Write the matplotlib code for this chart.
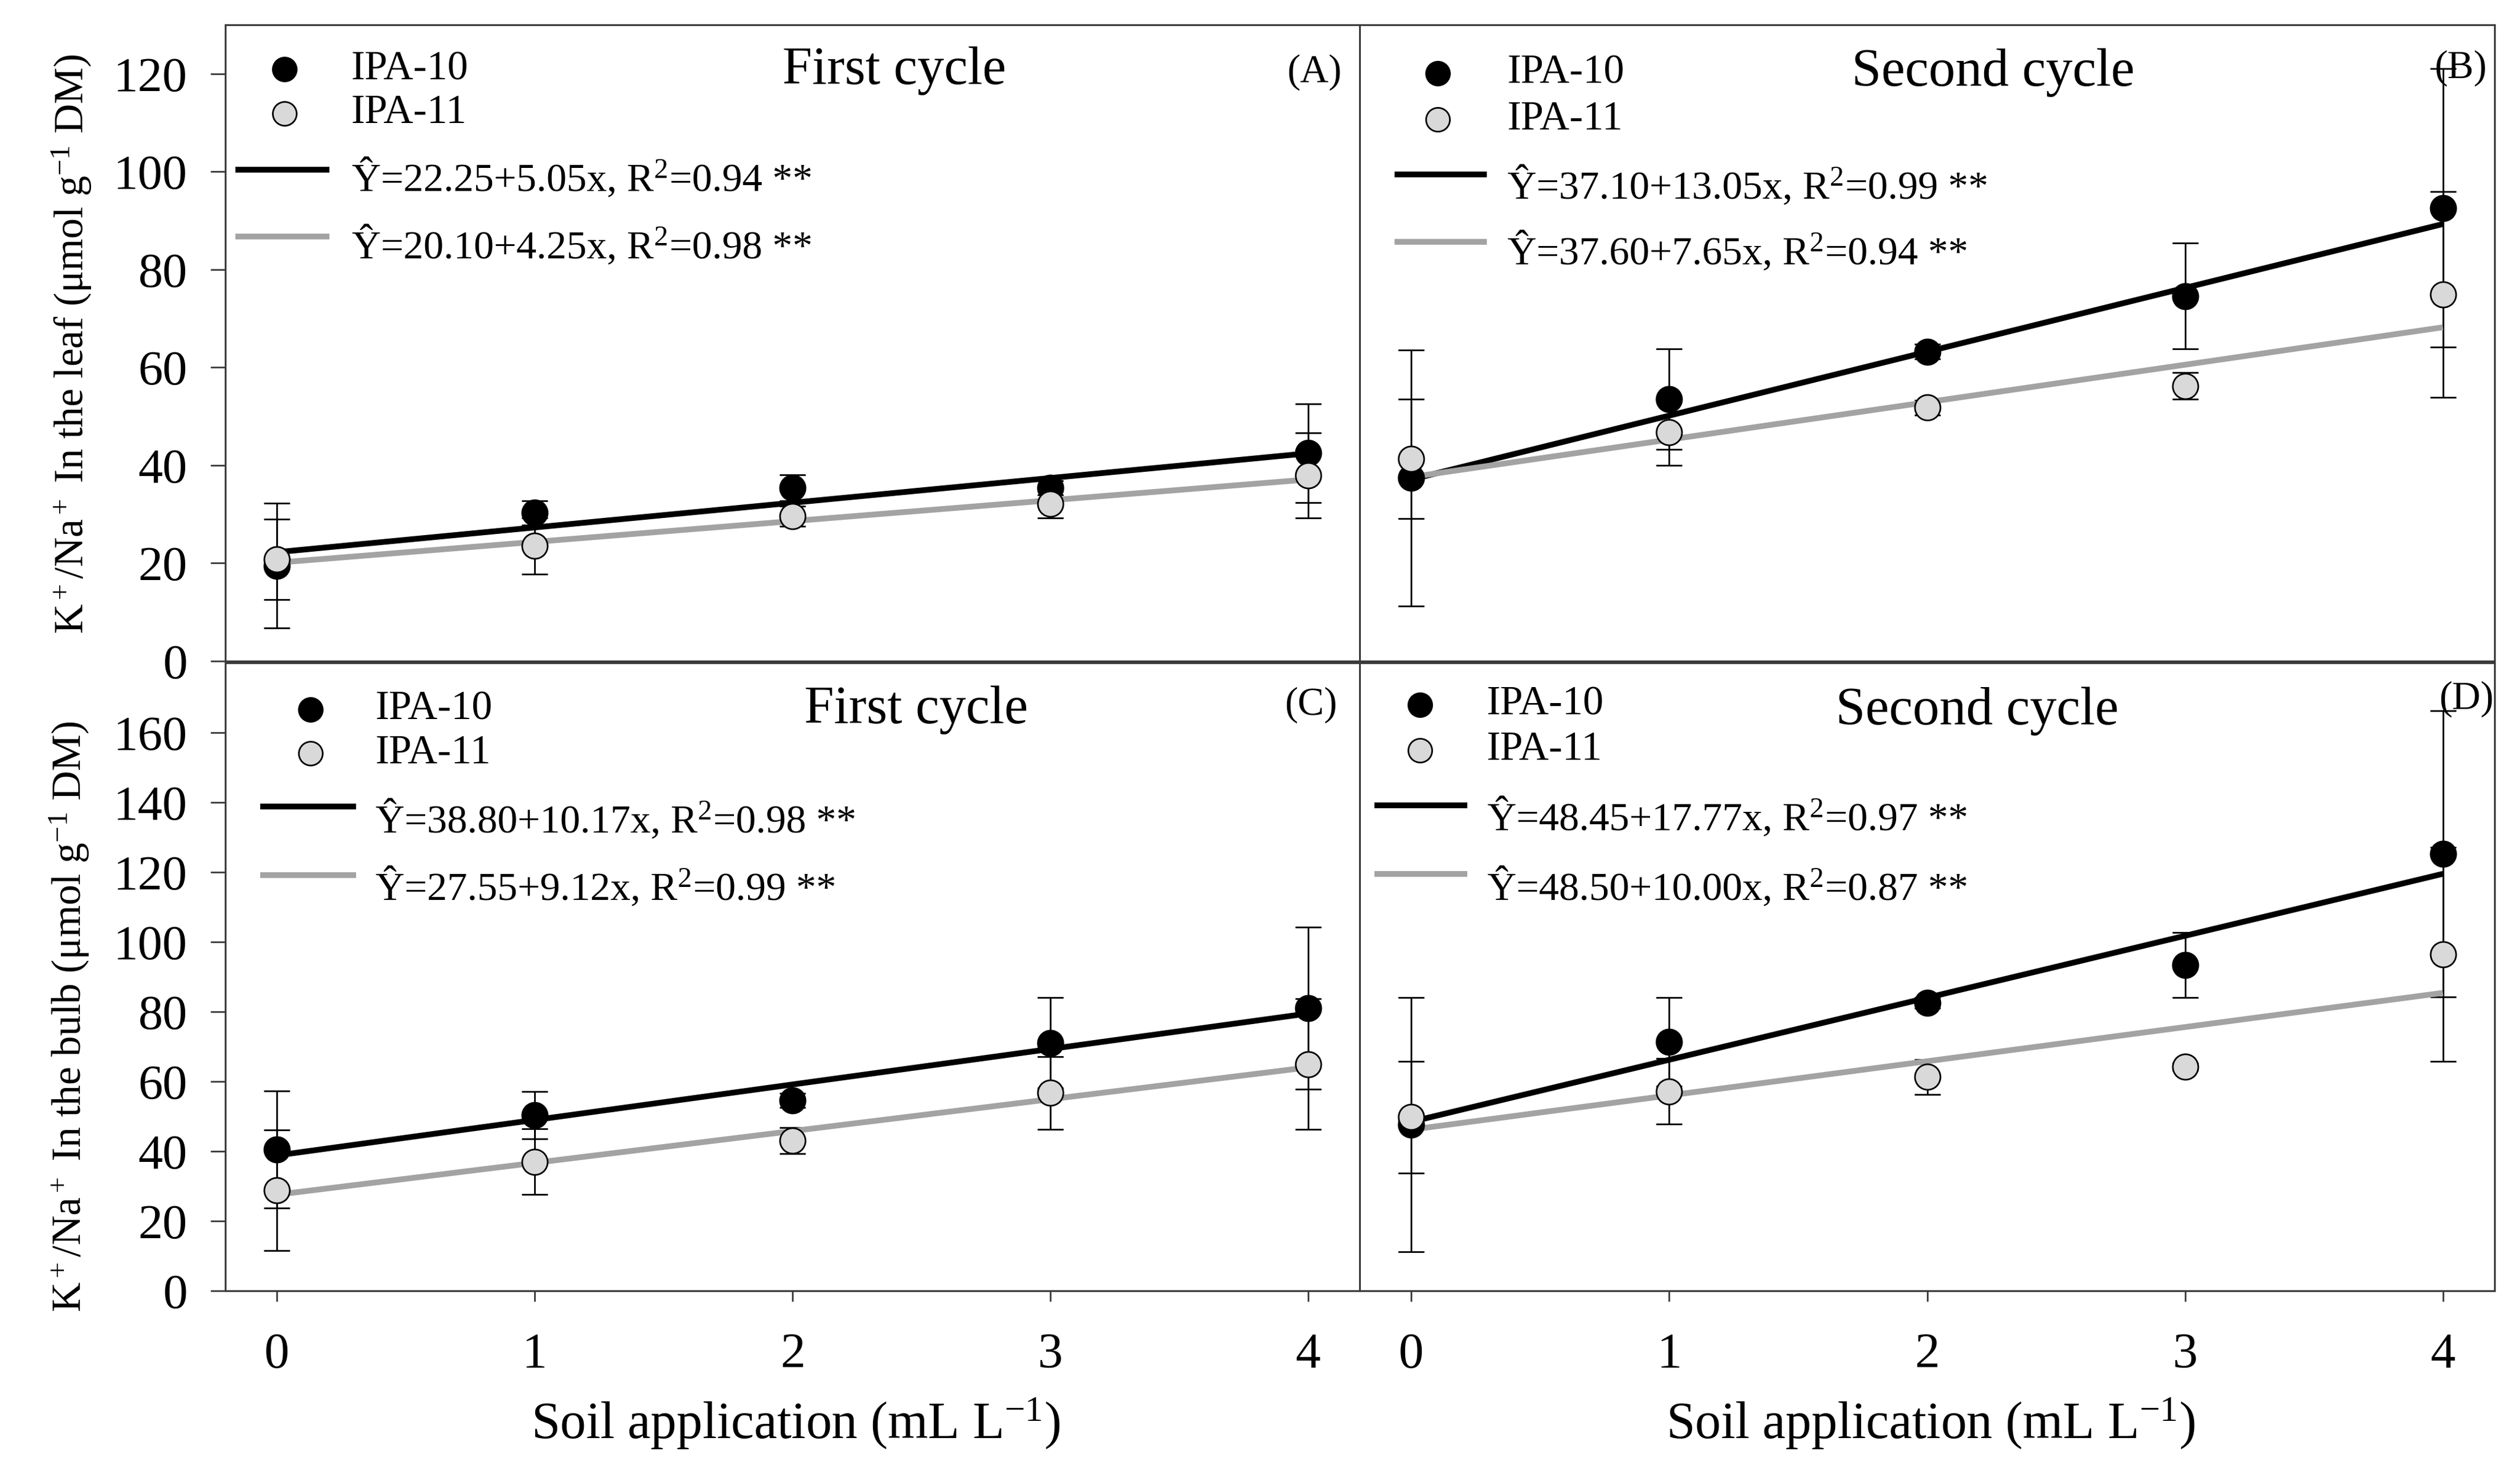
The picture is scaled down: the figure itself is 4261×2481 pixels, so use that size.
import numpy as np
import matplotlib
matplotlib.use("Agg")
import matplotlib.pyplot as plt

plt.rcParams['font.family'] = ['Liberation Serif', 'DejaVu Serif']
plt.rcParams['mathtext.fontset'] = 'custom'
plt.rcParams['mathtext.rm'] = 'Liberation Serif'
plt.rcParams['mathtext.it'] = 'Liberation Serif:italic'
plt.rcParams['mathtext.bf'] = 'Liberation Serif:bold'

# ---------------- data ----------------
doses = [0, 1, 2, 3, 4]

A_ipa10 = [19.5, 30.3, 35.4, 35.4, 42.5]
A_ipa10_err = [12.7, 2.5, 2.6, 1.5, 10.1]
A_ipa11 = [20.8, 23.5, 29.6, 32.1, 37.9]
A_ipa11_err = [8.2, 5.7, 2.0, 2.9, 8.7]

B_ipa10 = [37.4, 53.5, 63.2, 74.6, 92.6]
B_ipa10_err = [26.2, 10.3, 1.5, 10.8, 28.5]
B_ipa11 = [41.3, 46.8, 51.8, 56.2, 74.9]
B_ipa11_err = [12.2, 6.8, 1.5, 2.7, 21.0]

C_ipa10 = [40.5, 50.4, 54.6, 71.1, 81.0]
C_ipa10_err = [16.8, 6.8, 2.0, 13.0, 23.2]
C_ipa11 = [28.8, 37.0, 43.0, 56.7, 65.0]
C_ipa11_err = [17.3, 9.4, 3.7, 10.4, 18.7]

D_ipa10 = [47.6, 71.4, 82.6, 93.4, 125.3]
D_ipa10_err = [36.4, 12.7, 1.5, 9.3, 41.0]
D_ipa11 = [49.8, 57.2, 61.3, 64.2, 96.4]
D_ipa11_err = [16.0, 9.4, 5.0, 1.0, 30.7]

# regression lines (intercept, slope) as drawn
A_fit10 = (22.25, 5.05); A_fit11 = (20.10, 4.25)
B_fit10 = (37.10, 13.05); B_fit11 = (37.60, 7.65)
C_fit10 = (38.80, 10.17); C_fit11 = (27.55, 9.12)
D_fit10 = (48.45, 17.77); D_fit11 = (46.20, 9.80)

A_eq = [r"Ŷ=22.25+5.05x, R$^2$=0.94 **", r"Ŷ=20.10+4.25x, R$^2$=0.98 **"]
B_eq = [r"Ŷ=37.10+13.05x, R$^2$=0.99 **", r"Ŷ=37.60+7.65x, R$^2$=0.94 **"]
C_eq = [r"Ŷ=38.80+10.17x, R$^2$=0.98 **", r"Ŷ=27.55+9.12x, R$^2$=0.99 **"]
D_eq = [r"Ŷ=48.45+17.77x, R$^2$=0.97 **", r"Ŷ=48.50+10.00x, R$^2$=0.87 **"]

series_names = ["IPA-10", "IPA-11"]
titles = ["First cycle", "Second cycle", "First cycle", "Second cycle"]
panel_tags = ["(A)", "(B)", "(C)", "(D)"]
ylabel_top = r"K$^+$/Na$^+$ In the leaf (μmol g$^{-1}$ DM)"
ylabel_bot = r"K$^+$/Na$^+$ In the bulb (μmol g$^{-1}$ DM)"
xlabel = r"Soil application (mL L$^{-1}$)"
yticks_top = [0, 20, 40, 60, 80, 100, 120]
yticks_bot = [0, 20, 40, 60, 80, 100, 120, 140, 160]

# ---------------- styling ----------------
GRAY_LINE = '#a3a3a3'
GRAY_FACE = '#d9d9d9'
SPINE = '#3a3a3a'

W, H = 4261, 2481
fig = plt.figure(figsize=(W / 100, H / 100), dpi=100)

L = 381 / W; M = 2299 / W; R = 4218 / W
top_t = 1 - 42 / H; top_b = 1 - 1118 / H
bot_t = 1 - 1121 / H; bot_b = 1 - 2183 / H

axA = fig.add_axes([L, top_b, M - L, top_t - top_b])
axB = fig.add_axes([M, top_b, R - M, top_t - top_b])
axC = fig.add_axes([L, bot_b, M - L, bot_t - bot_b])
axD = fig.add_axes([M, bot_b, R - M, bot_t - bot_b])

panels = [
    (axA, A_ipa10, A_ipa10_err, A_ipa11, A_ipa11_err, A_fit10, A_fit11, A_eq),
    (axB, B_ipa10, B_ipa10_err, B_ipa11, B_ipa11_err, B_fit10, B_fit11, B_eq),
    (axC, C_ipa10, C_ipa10_err, C_ipa11, C_ipa11_err, C_fit10, C_fit11, C_eq),
    (axD, D_ipa10, D_ipa10_err, D_ipa11, D_ipa11_err, D_fit10, D_fit11, D_eq),
]

# legend / text positions (axes fractions)
layout = {
    'A': dict(mx=0.052, my=(0.930, 0.861), tx=0.111, lx=(0.009, 0.092), ly=(0.772, 0.667),
              eqy=(0.739, 0.633), title=(0.590, 0.928), tag=(0.984, 0.925)),
    'B': dict(mx=0.069, my=(0.924, 0.851), tx=0.130, lx=(0.031, 0.112), ly=(0.765, 0.659),
              eqy=(0.727, 0.624), title=(0.558, 0.925), tag=(0.993, 0.932)),
    'C': dict(mx=0.075, my=(0.926, 0.856), tx=0.132, lx=(0.031, 0.115), ly=(0.771, 0.662),
              eqy=(0.730, 0.623), title=(0.609, 0.925), tag=(0.980, 0.933)),
    'D': dict(mx=0.053, my=(0.933, 0.861), tx=0.112, lx=(0.013, 0.095), ly=(0.773, 0.664),
              eqy=(0.734, 0.623), title=(0.544, 0.923), tag=(0.999, 0.942)),
}

xx = np.array([doses[0], doses[-1]], dtype=float)

for i, (ax, y10, e10, y11, e11, f10, f11, eqs) in enumerate(panels):
    key = "ABCD"[i]
    lay = layout[key]
    ax.errorbar(doses, y10, yerr=e10, fmt='none', ecolor='black', elinewidth=2,
                capsize=16, capthick=2, zorder=2)
    ax.errorbar(doses, y11, yerr=e11, fmt='none', ecolor='black', elinewidth=2,
                capsize=16, capthick=2, zorder=2)
    ax.plot(xx, f10[0] + f10[1] * xx, color='black', lw=7, zorder=3, solid_capstyle='butt')
    ax.plot(xx, f11[0] + f11[1] * xx, color=GRAY_LINE, lw=7, zorder=3, solid_capstyle='butt')
    ax.plot(doses, y10, 'o', ms=31, mfc='black', mec='black', mew=2, zorder=4)
    ax.plot(doses, y11, 'o', ms=31, mfc=GRAY_FACE, mec='black', mew=2, zorder=5)

    ax.set_xlim(-0.2, 4.2)
    if i < 2:
        ax.set_ylim(0, 130)
    else:
        ax.set_ylim(0, 180)

    for s in ax.spines.values():
        s.set_color(SPINE)
        s.set_linewidth(2.2)

    # legend (manual)
    ax.plot([lay['mx']], [lay['my'][0]], 'o', ms=29, mfc='black', mec='black', mew=2,
            transform=ax.transAxes, clip_on=False)
    ax.plot([lay['mx']], [lay['my'][1]], 'o', ms=29, mfc=GRAY_FACE, mec='black', mew=2,
            transform=ax.transAxes, clip_on=False)
    for j in range(2):
        ax.text(lay['tx'], lay['my'][j], series_names[j], transform=ax.transAxes,
                fontsize=50, ha='left', va='center')
    ax.plot(lay['lx'], [lay['ly'][0]] * 2, color='black', lw=7, transform=ax.transAxes,
            solid_capstyle='butt')
    ax.plot(lay['lx'], [lay['ly'][1]] * 2, color=GRAY_LINE, lw=7, transform=ax.transAxes,
            solid_capstyle='butt')
    for j in range(2):
        ax.text(lay['tx'], lay['eqy'][j], eqs[j], transform=ax.transAxes,
                fontsize=49, ha='left', va='baseline')
    ax.text(lay['title'][0], lay['title'][1], titles[i], transform=ax.transAxes,
            fontsize=65, ha='center', va='center')
    ax.text(lay['tag'][0], lay['tag'][1], panel_tags[i], transform=ax.transAxes,
            fontsize=48, ha='right', va='center')

    # ticks
    if i in (0, 2):
        ax.set_yticks(yticks_top if i == 0 else yticks_bot)
        ax.tick_params(axis='y', direction='out', length=18, width=2, color=SPINE,
                       labelsize=60, pad=28)
    else:
        ax.set_yticks([])
    if i in (2, 3):
        ax.set_xticks(doses)
        ax.tick_params(axis='x', direction='out', length=13, width=2, color=SPINE,
                       labelsize=61, pad=38)
        ax.text(0.503, -0.212, xlabel, transform=ax.transAxes, fontsize=63,
                ha='center', va='center')
    else:
        ax.set_xticks([])

axA.text(-0.1356, 0.498, ylabel_top, transform=axA.transAxes, fontsize=50,
         rotation=90, ha='center', va='center')
axC.text(-0.1374, 0.437, ylabel_bot, transform=axC.transAxes, fontsize=50,
         rotation=90, ha='center', va='center')

fig.savefig("out.png", dpi=100)
